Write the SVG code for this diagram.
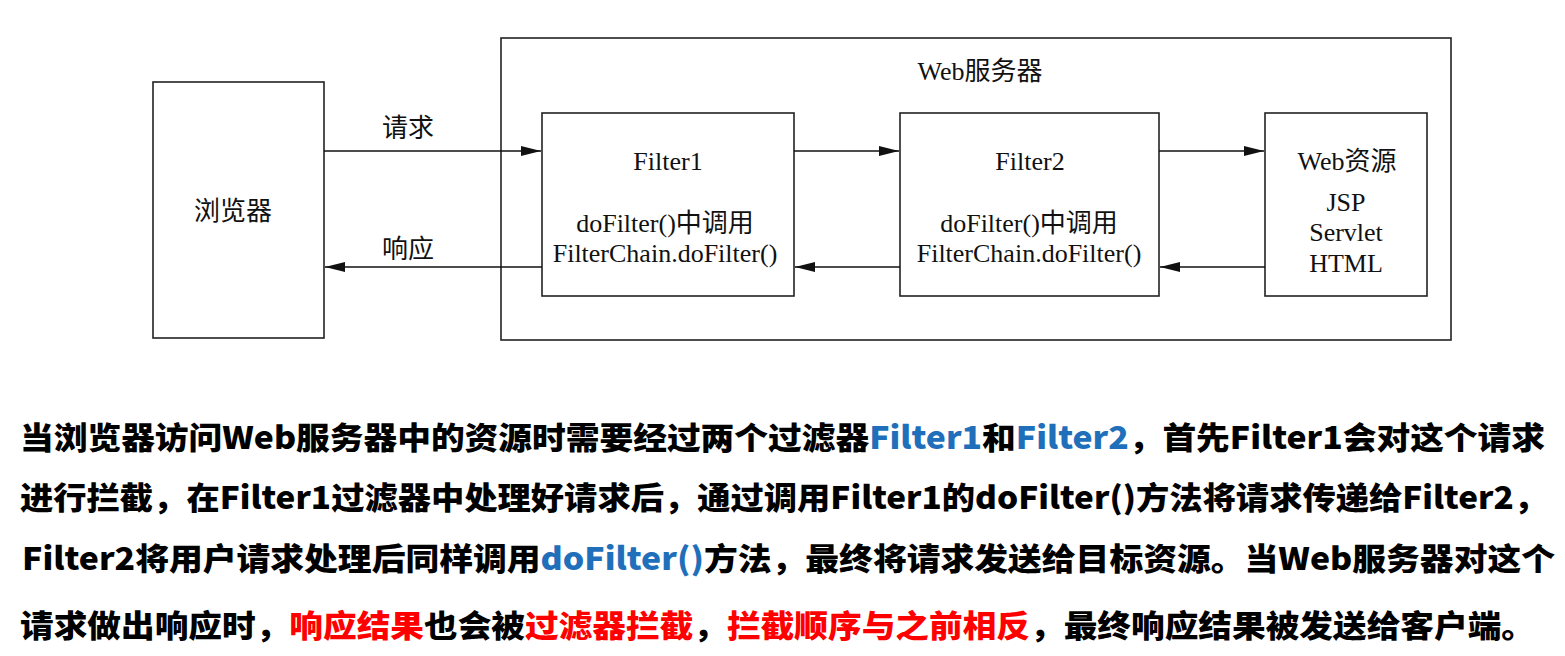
<svg xmlns="http://www.w3.org/2000/svg" width="1565" height="656" viewBox="0 0 1565 656">
<style>
.box{fill:#fff;stroke:#222;stroke-width:1.6}
.ln{stroke:#111;stroke-width:1.6;fill:none}
.t{font-family:"Liberation Serif","Noto Sans CJK SC",serif;font-size:26px;fill:#111;text-anchor:middle}
.p{font-family:"Noto Sans CJK SC","Noto Sans",sans-serif;font-size:31px;font-weight:900;fill:#000}
.b{fill:#1f6fba}
.r{fill:#ff0000}
</style>
<defs>
<marker id="ah" viewBox="0 0 20 10" refX="20" refY="5" markerWidth="20" markerHeight="10" markerUnits="userSpaceOnUse" orient="auto">
<path d="M0,0 L20,5 L0,10 Z" fill="#111"/>
</marker>
</defs>
<rect width="1565" height="656" fill="#fff"/>
<g id="server">
<rect class="box" x="501" y="38" width="950" height="302"/>
<text class="t" x="980" y="80">Web服务器</text>
</g>
<g id="browser">
<rect class="box" x="153" y="82" width="171" height="256"/>
<text class="t" x="233" y="220">浏览器</text>
</g>
<g id="filter1">
<rect class="box" x="542" y="113" width="252" height="183"/>
<text class="t" x="668" y="170">Filter1</text>
<text class="t" x="665" y="232">doFilter()中调用</text>
<text class="t" x="665" y="262">FilterChain.doFilter()</text>
</g>
<g id="filter2">
<rect class="box" x="900" y="113" width="259" height="183"/>
<text class="t" x="1030" y="170">Filter2</text>
<text class="t" x="1029" y="232">doFilter()中调用</text>
<text class="t" x="1029" y="262">FilterChain.doFilter()</text>
</g>
<g id="webres">
<rect class="box" x="1265" y="113" width="162" height="183"/>
<text class="t" x="1347" y="170">Web资源</text>
<text class="t" x="1346" y="211">JSP</text>
<text class="t" x="1346" y="241">Servlet</text>
<text class="t" x="1346" y="272">HTML</text>
</g>
<g id="connectors">
<line class="ln" x1="324" y1="151" x2="541" y2="151" marker-end="url(#ah)"/>
<line class="ln" x1="542" y1="267" x2="325" y2="267" marker-end="url(#ah)"/>
<line class="ln" x1="794" y1="151" x2="899" y2="151" marker-end="url(#ah)"/>
<line class="ln" x1="900" y1="267" x2="795" y2="267" marker-end="url(#ah)"/>
<line class="ln" x1="1159" y1="151" x2="1264" y2="151" marker-end="url(#ah)"/>
<line class="ln" x1="1265" y1="267" x2="1160" y2="267" marker-end="url(#ah)"/>
<text class="t" x="408" y="137">请求</text>
<text class="t" x="408" y="258">响应</text>
</g>
<g id="caption">
<text class="p" x="20" y="449" textLength="1525" lengthAdjust="spacingAndGlyphs">当浏览器访问Web服务器中的资源时需要经过两个过滤器<tspan class="b">Filter1</tspan>和<tspan class="b">Filter2</tspan>，首先Filter1会对这个请求</text>
<text class="p" x="20" y="509" textLength="1527" lengthAdjust="spacingAndGlyphs">进行拦截，在Filter1过滤器中处理好请求后，通过调用Filter1的doFilter()方法将请求传递给Filter2，</text>
<text class="p" x="22" y="570" textLength="1533" lengthAdjust="spacingAndGlyphs">Filter2将用户请求处理后同样调用<tspan class="b">doFilter()</tspan>方法，最终将请求发送给目标资源。当Web服务器对这个</text>
<text class="p" x="20" y="637" textLength="1515" lengthAdjust="spacingAndGlyphs">请求做出响应时，<tspan class="r">响应结果</tspan>也会被<tspan class="r">过滤器拦截</tspan>，<tspan class="r">拦截顺序与之前相反</tspan>，最终响应结果被发送给客户端。</text>
</g>
</svg>
